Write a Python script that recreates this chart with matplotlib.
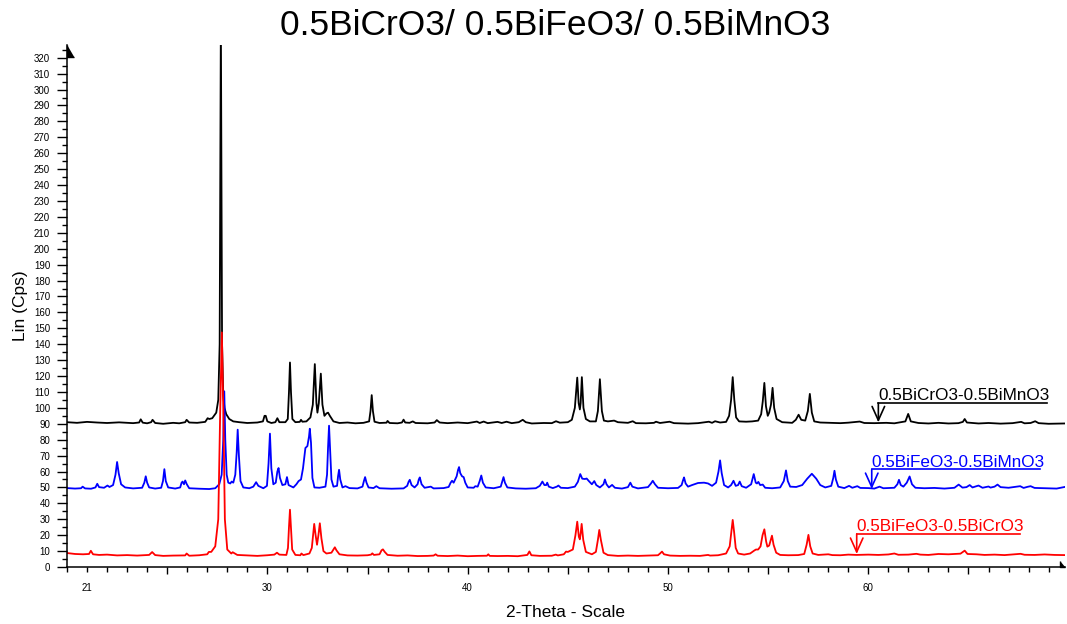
import matplotlib
matplotlib.use("Agg")
import matplotlib.pyplot as plt

plt.rcParams['font.family'] = ['Liberation Sans', 'DejaVu Sans']

# 2-theta / counts
black = [(20.0, 91.0), (20.5, 90.6), (21.0, 91.2), (21.5, 90.8), (22.0, 90.5), (22.6, 90.9), (23.3, 90.4),
         (23.6, 90.8), (23.68, 92.8), (23.78, 90.7), (24.0, 90.3), (24.2, 91.0), (24.27, 92.5), (24.4, 90.5),
         (24.8, 90.0), (25.3, 90.6), (25.6, 90.3), (25.9, 91.0), (25.97, 92.5), (26.1, 90.8), (26.5, 90.6),
         (26.9, 91.2), (27.02, 93.5), (27.1, 93.0), (27.25, 93.5), (27.45, 97), (27.55, 105), (27.62, 140),
         (27.68, 345), (27.74, 140), (27.8, 108), (27.86, 100), (27.95, 96), (28.1, 93), (28.3, 91.5),
         (28.6, 91), (29.0, 90.5), (29.5, 90.8), (29.78, 91.5), (29.86, 95), (29.92, 95), (30.0, 91.5),
         (30.2, 90.5), (30.4, 91), (30.5, 93.5), (30.6, 91), (30.9, 91), (31.02, 93), (31.08, 110),
         (31.13, 128.5), (31.18, 110), (31.25, 93), (31.4, 91), (31.62, 91.2), (31.68, 92.5), (31.75, 91.3),
         (31.95, 91.5), (32.15, 94), (32.27, 102), (32.37, 127.5), (32.45, 103), (32.5, 97), (32.57, 103),
         (32.67, 121.5), (32.75, 102), (32.85, 95), (32.95, 96.5), (33.03, 97), (33.12, 95), (33.3, 91.5),
         (33.6, 90.5), (34.0, 90.8), (34.4, 90.3), (34.8, 90.6), (35.08, 91.5), (35.15, 98), (35.21, 108),
         (35.27, 98), (35.35, 91.3), (35.6, 90.5), (35.95, 90.7), (36.0, 91.8), (36.1, 90.5), (36.5, 90.3),
         (36.72, 90.8), (36.8, 92.6), (36.88, 90.8), (37.1, 90.6), (37.26, 91.5), (37.4, 90.5), (38.0, 90.3),
         (38.35, 90.8), (38.46, 92.3), (38.6, 90.8), (39.0, 90.4), (39.5, 90.8), (40.0, 90.4), (40.46, 91.4),
         (40.6, 90.5), (40.8, 91.4), (41.0, 90.4), (41.49, 91.2), (41.7, 90.5), (41.94, 91.3), (42.2, 90.4),
         (42.55, 91.0), (42.75, 92.5), (42.9, 91), (43.2, 90.2), (43.8, 90.5), (44.2, 90.4), (44.41, 91.6),
         (44.6, 90.7), (45.0, 91.0), (45.2, 92.5), (45.35, 100), (45.47, 119), (45.54, 103), (45.6, 99),
         (45.64, 103), (45.7, 119.3), (45.78, 100), (45.9, 93), (46.1, 91.5), (46.4, 91.5), (46.5, 98),
         (46.6, 118), (46.7, 98), (46.8, 92), (47.0, 91.5), (47.31, 92), (47.5, 91), (48.0, 90.6),
         (48.24, 91.6), (48.4, 90.4), (48.9, 90.3), (49.3, 90.6), (49.4, 91.3), (49.6, 90.5), (50.08, 91.3),
         (50.3, 90.4), (51.0, 90.1), (51.5, 90.4), (52.04, 91.3), (52.2, 90.6), (52.35, 91.6), (52.6, 90.8),
         (52.9, 91.2), (53.05, 95), (53.15, 105), (53.23, 119.3), (53.31, 105), (53.4, 94), (53.55, 91.5),
         (53.9, 91.3), (54.2, 91.5), (54.5, 92), (54.65, 96), (54.73, 104), (54.81, 115.7), (54.89, 101),
         (54.98, 95), (55.05, 97), (55.14, 102), (55.22, 112.6), (55.3, 100), (55.42, 93), (55.7, 91),
         (56.2, 90.6), (56.38, 92.5), (56.52, 95.7), (56.65, 92.5), (56.85, 92), (56.98, 98), (57.08, 108.8),
         (57.18, 97), (57.3, 91.5), (57.6, 90.8), (58.1, 90.6), (58.6, 90.4), (59.0, 90.7), (59.57, 91.4),
         (59.8, 90.5), (60.3, 90.4), (60.9, 90.6), (61.3, 90.3), (61.85, 91.5), (61.99, 96.2), (62.12, 91.5),
         (62.5, 90.5), (63.0, 90.2), (63.5, 90.6), (64.0, 90.2), (64.5, 90.4), (64.72, 91.2), (64.81, 93),
         (64.92, 90.8), (65.5, 90.2), (66.0, 90.5), (66.6, 90.1), (67.2, 90.4), (67.63, 91.2), (67.8, 90.3),
         (68.1, 90.5), (68.33, 91.6), (68.5, 90.4), (69.0, 90.0), (69.8, 90.2)]

blue = [(20.0, 49.6), (20.4, 49.3), (20.7, 49.5), (20.78, 50.5), (20.9, 49.4), (21.2, 49.2), (21.42, 50.0),
        (21.51, 52.3), (21.6, 50.2), (21.85, 49.8), (22.02, 51.2), (22.12, 50.3), (22.3, 51.5), (22.42, 58),
        (22.5, 66), (22.58, 59), (22.7, 52), (22.9, 50), (23.3, 49.4), (23.75, 49.8), (23.86, 53), (23.93, 57),
        (24.0, 53), (24.1, 50), (24.4, 49.3), (24.7, 49.8), (24.79, 54), (24.86, 61.5), (24.93, 54),
        (25.05, 50), (25.4, 49.3), (25.65, 50), (25.72, 53), (25.77, 53.7), (25.84, 52), (25.9, 54.4),
        (25.98, 52), (26.1, 49.5), (26.6, 49.2), (27.1, 49.0), (27.4, 49.5), (27.6, 52), (27.72, 58),
        (27.8, 80), (27.85, 110.4), (27.9, 80), (27.97, 58), (28.05, 53), (28.15, 52.5), (28.22, 53.7),
        (28.3, 53), (28.4, 58), (28.47, 72), (28.52, 86.3), (28.58, 70), (28.66, 54), (28.8, 50), (29.1, 49.5),
        (29.3, 50.5), (29.44, 53.3), (29.55, 51), (29.8, 49.5), (29.98, 51), (30.06, 65), (30.13, 83.8),
        (30.2, 62), (30.3, 52), (30.42, 53), (30.5, 60), (30.56, 62.2), (30.63, 56), (30.75, 51.5), (30.9, 52),
        (30.98, 56.5), (31.06, 51.5), (31.3, 50), (31.45, 52), (31.56, 54), (31.68, 55), (31.78, 62),
        (31.9, 74.8), (32.0, 76), (32.08, 82), (32.12, 86.9), (32.18, 78), (32.25, 56), (32.35, 50),
        (32.6, 49.8), (32.9, 50.5), (32.98, 58), (33.03, 75), (33.08, 88.8), (33.13, 75), (33.2, 55),
        (33.3, 50.5), (33.48, 51), (33.53, 57), (33.58, 61.1), (33.64, 55), (33.75, 50), (33.9, 50.8),
        (34.1, 49.6), (34.5, 49.4), (34.75, 50.5), (34.82, 54), (34.88, 56.5), (34.95, 53), (35.05, 50),
        (35.3, 49.6), (35.44, 50.8), (35.6, 49.5), (36.2, 49.2), (36.8, 49.4), (36.98, 51), (37.05, 53.5),
        (37.11, 54.8), (37.2, 51.5), (37.35, 50), (37.5, 52), (37.56, 55), (37.61, 56.3), (37.7, 52),
        (37.85, 49.8), (38.16, 50.5), (38.3, 49.4), (38.8, 49.6), (39.05, 50.3), (39.15, 53), (39.22, 54.2),
        (39.3, 53), (39.45, 57), (39.52, 61), (39.57, 62.8), (39.63, 59), (39.72, 57), (39.8, 56.5),
        (39.88, 53), (40.0, 50), (40.3, 49.8), (40.38, 50.8), (40.5, 50.5), (40.6, 54), (40.68, 57.5),
        (40.76, 53), (40.9, 50), (41.3, 49.5), (41.65, 50.5), (41.73, 54), (41.79, 56.5), (41.86, 53),
        (41.98, 50), (42.4, 49.4), (42.9, 49.2), (43.4, 49.5), (43.6, 51), (43.73, 53.7), (43.83, 51.5),
        (43.92, 51.5), (43.97, 53), (44.05, 50.5), (44.25, 49.6), (44.45, 50.5), (44.53, 51.2), (44.65, 49.8),
        (45.0, 49.6), (45.35, 50.5), (45.5, 53.5), (45.62, 58.4), (45.72, 55.5), (45.85, 55.3), (45.94, 55.6),
        (46.05, 54), (46.2, 52), (46.32, 54), (46.42, 51.5), (46.6, 50), (46.78, 52), (46.85, 55), (46.93, 52),
        (47.05, 50), (47.21, 51.6), (47.35, 49.8), (47.7, 49.3), (48.0, 50.2), (48.12, 53), (48.22, 50.5),
        (48.5, 49.4), (49.0, 50.2), (49.15, 52.5), (49.24, 54.2), (49.35, 52), (49.5, 49.8), (50.0, 49.5),
        (50.5, 49.7), (50.68, 51.5), (50.75, 54.5), (50.8, 56.3), (50.88, 52.5), (51.0, 50.5), (51.2, 51.5),
        (51.5, 52.8), (51.8, 53), (52.0, 52.5), (52.2, 51), (52.4, 53), (52.52, 60), (52.6, 67), (52.68, 59),
        (52.8, 51.5), (53.0, 50), (53.15, 51.5), (53.27, 54.2), (53.38, 51), (53.5, 51.5), (53.58, 53.7),
        (53.68, 50.8), (53.9, 49.8), (54.15, 52), (54.28, 58.4), (54.38, 53), (54.44, 52.5), (54.51, 53.5),
        (54.6, 51.5), (54.73, 51.8), (54.85, 49.8), (55.2, 49.5), (55.6, 50), (55.78, 54), (55.89, 60.7),
        (55.98, 54), (56.1, 50.5), (56.4, 50.3), (56.7, 51.5), (56.95, 55.5), (57.18, 58.6), (57.4, 55.5),
        (57.6, 51.5), (57.85, 50), (58.15, 51), (58.25, 56), (58.31, 60.5), (58.38, 55), (58.5, 50.5),
        (58.8, 49.6), (59.04, 51), (59.2, 49.8), (59.45, 50.8), (59.6, 49.7), (60.0, 49.6), (60.3, 49.3),
        (60.56, 50.5), (60.75, 49.5), (61.3, 49.8), (61.45, 52), (61.53, 54.8), (61.62, 51.5), (61.75, 50.5),
        (61.92, 53), (62.06, 56.9), (62.18, 52), (62.35, 49.8), (62.8, 49.5), (63.3, 49.7), (63.8, 49.3),
        (64.3, 49.8), (64.51, 51.8), (64.7, 49.9), (64.9, 50.2), (65.06, 51.5), (65.2, 50), (65.5, 51.2),
        (65.7, 49.8), (66.0, 50.6), (66.1, 49.9), (66.3, 50.5), (66.45, 51.8), (66.6, 50.2), (67.0, 49.8),
        (67.3, 50.3), (67.58, 50.8), (67.75, 49.7), (67.95, 50.4), (68.1, 50.8), (68.3, 49.7), (68.6, 49.6),
        (69.0, 49.5), (69.4, 49.3), (69.6, 49.8), (69.8, 50.3)]

red = [(20.0, 8.8), (20.4, 8.2), (20.8, 8.0), (21.1, 8.2), (21.19, 10.2), (21.3, 8.0), (21.6, 7.6), (22.0, 7.8),
       (22.5, 7.3), (23.0, 7.5), (23.5, 7.2), (24.1, 7.6), (24.25, 9.4), (24.4, 7.5), (24.8, 7.0), (25.3, 7.2),
       (25.9, 7.3), (25.97, 8.5), (26.1, 7.1), (26.6, 7.4), (27.0, 8), (27.08, 9.5), (27.2, 9.5), (27.4, 13),
       (27.55, 30), (27.65, 100), (27.73, 147.4), (27.8, 100), (27.88, 30), (28.0, 11), (28.2, 8.5),
       (28.27, 9.3), (28.5, 7.6), (29.0, 7.3), (29.5, 7.0), (30.0, 7.4), (30.35, 7.8), (30.48, 9.0),
       (30.6, 7.8), (30.95, 7.6), (31.03, 12), (31.08, 25), (31.13, 36), (31.18, 25), (31.24, 11), (31.4, 7.6),
       (31.65, 7.4), (31.7, 8.5), (31.8, 7.5), (32.1, 8.5), (32.22, 12), (32.3, 22), (32.34, 27.1),
       (32.41, 20), (32.48, 14), (32.55, 20), (32.62, 27.5), (32.7, 18), (32.8, 10), (32.95, 8.5), (33.2, 9.0),
       (33.3, 11), (33.37, 12.4), (33.45, 10.5), (33.6, 8), (34.0, 7.3), (34.5, 7.2), (35.0, 7.4),
       (35.18, 7.8), (35.24, 8.6), (35.32, 7.6), (35.6, 8.0), (35.7, 10.5), (35.77, 11.1), (35.86, 9.5),
       (36.0, 7.6), (36.5, 7.1), (37.0, 7.3), (37.5, 6.9), (38.0, 7.0), (38.3, 7.2), (38.4, 8.0), (38.5, 7.1),
       (39.0, 6.9), (39.5, 7.2), (40.0, 6.8), (40.5, 7.0), (40.96, 7.1), (41.03, 8.0), (41.1, 7.0),
       (41.5, 6.9), (42.0, 7.0), (42.5, 6.8), (42.98, 7.6), (43.08, 9.8), (43.18, 7.4), (43.6, 7.0),
       (44.2, 7.1), (44.4, 7.8), (44.5, 7.3), (44.8, 8.0), (44.91, 9.7), (45.0, 9.5), (45.25, 11),
       (45.38, 20), (45.47, 28.5), (45.55, 19), (45.6, 17.4), (45.64, 21), (45.69, 27.1), (45.77, 17),
       (45.9, 9.5), (46.2, 8), (46.4, 9.5), (46.5, 17), (46.57, 23.3), (46.65, 17), (46.78, 9), (47.0, 7.5),
       (47.5, 7.0), (48.0, 7.2), (48.5, 7.0), (49.0, 7.2), (49.5, 7.4), (49.62, 8.7), (49.7, 9.7), (49.8, 8.0),
       (50.1, 7.2), (50.6, 7.0), (51.1, 7.1), (51.6, 7.0), (52.0, 7.6), (52.1, 7.2), (52.5, 7.4), (52.9, 8.5),
       (53.08, 13), (53.16, 22), (53.23, 29.6), (53.3, 22), (53.38, 12), (53.5, 8.5), (53.8, 7.8), (54.1, 8.5),
       (54.3, 10.3), (54.39, 11), (54.5, 11), (54.62, 13), (54.72, 20), (54.81, 23.7), (54.9, 16),
       (54.96, 12.8), (55.05, 13.5), (55.13, 17), (55.19, 19.7), (55.27, 14), (55.4, 9), (55.6, 7.6),
       (56.0, 7.4), (56.5, 7.5), (56.8, 8.2), (56.92, 14), (57.01, 20.2), (57.1, 13), (57.22, 8.5),
       (57.5, 7.6), (58.0, 8.0), (58.2, 7.5), (58.6, 7.4), (59.0, 7.8), (59.4, 7.6), (60.0, 7.8), (60.5, 7.6),
       (61.0, 7.9), (61.3, 8.5), (61.5, 7.7), (62.0, 7.8), (62.4, 8.3), (62.6, 7.8), (63.0, 7.6), (63.5, 8.2),
       (64.0, 8.0), (64.6, 8.4), (64.81, 10.3), (64.95, 8.2), (65.4, 8.0), (65.8, 7.6), (66.3, 7.8),
       (66.8, 7.5), (67.2, 7.9), (67.6, 8.3), (67.8, 7.7), (68.3, 7.6), (68.8, 7.9), (69.3, 7.6), (69.8, 7.5)]

# sample labels: text, colour, arrow x (2-theta), arrow tip, label line height, line end
labels = [("0.5BiCrO3-0.5BiMnO3", "black", 60.5, 90.9, 103.0, 68.9),
          ("0.5BiFeO3-0.5BiMnO3", "#0000ff", 60.17, 49.0, 61.3, 68.55),
          ("0.5BiFeO3-0.5BiCrO3", "#ff0000", 59.42, 8.2, 20.8, 67.58)]

fig = plt.figure(figsize=(10.67, 6.24), dpi=100)
ax = fig.add_axes([0.0628, 0.0913, 0.935, 0.8366])

for pts, col in [(black, "black"), (blue, "#0000ff"), (red, "#ff0000")]:
    xs, ys = zip(*pts)
    ax.plot(xs, ys, color=col, lw=1.3)

for txt, col, xa, tip, top, xend in labels:
    ax.annotate("", xy=(xa, tip), xytext=(xa, top),
                arrowprops=dict(arrowstyle="->, head_length=1.0, head_width=0.45",
                                color=col, lw=1.2, shrinkA=0, shrinkB=0, mutation_scale=10))
    ax.plot([xa, xend], [top, top], color=col, lw=1.2)
    ax.text(xa, top + 1.8, txt, color=col, fontsize=12.3, ha="left", va="baseline")

ax.set_xlim(20, 69.8)
ax.set_ylim(0, 328)

for s in ["top", "right"]:
    ax.spines[s].set_visible(False)
for s in ["left", "bottom"]:
    ax.spines[s].set_linewidth(1.1)

ax.set_xticks(range(25, 70, 5), labels=["", "30", "", "40", "", "50", "", "60", ""])
minor_x = [i for i in range(20, 70) if i % 5 or i == 20]
ax.set_xticks(minor_x, labels=["21" if i == 21 else "" for i in minor_x], minor=True)
ax.set_yticks(range(0, 321, 10))
ax.set_yticks(range(5, 326, 10), minor=True)

ax.tick_params(axis="x", which="major", length=5.3, width=1, labelsize=7, pad=6.5)
ax.tick_params(axis="x", which="minor", length=3.4, width=1, labelsize=7, pad=8.4)
ax.tick_params(axis="y", which="major", length=7.2, width=1, labelsize=7, pad=5)
ax.tick_params(axis="y", which="minor", length=3.6, width=1)

# arrow heads at the ends of the axes
ax.plot([0], [1], marker=[(0, 0), (0, -1), (0.6, -1)], ms=17, color="black",
        transform=ax.transAxes, clip_on=False)
ax.plot([1], [0], marker=[(0, 0), (-1, 0), (-1, 1.2)], ms=9, color="black",
        transform=ax.transAxes, clip_on=False)

ax.set_xlabel("2-Theta - Scale", fontsize=12.5, labelpad=8)
ax.set_ylabel("Lin (Cps)", fontsize=12.5, labelpad=4)
fig.text(0.52, 0.985, "0.5BiCrO3/ 0.5BiFeO3/ 0.5BiMnO3", fontsize=25.5, ha="center", va="top")

fig.savefig("out.png", dpi=100)
